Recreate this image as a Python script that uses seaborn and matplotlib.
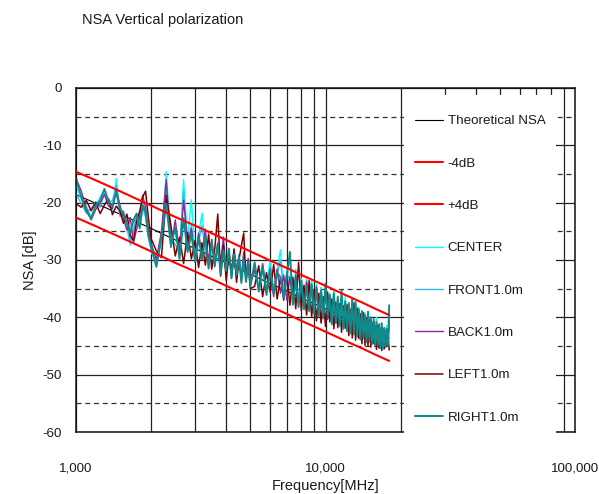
import matplotlib
matplotlib.use("Agg")
import matplotlib.pyplot as plt
import seaborn as sns
from matplotlib.ticker import FixedLocator, NullFormatter, MultipleLocator
from matplotlib.patches import Rectangle

# ---------------- data ----------------
FREQ = [1000, 1050, 1100, 1150, 1200, 1250, 1300, 1350, 1400, 1450,
        1500, 1550, 1600, 1650, 1700, 1750, 1800, 1850, 1900, 1950, 2000,
        2100, 2200, 2300, 2400, 2500, 2600, 2700, 2800, 2900, 3000,
        3100, 3200, 3300, 3400, 3500, 3600, 3700, 3800, 3900, 4000,
        4100, 4200, 4300, 4400, 4500, 4600, 4700, 4800, 4900, 5000,
        5200, 5400, 5600, 5800, 6000, 6200, 6400, 6600, 6800, 7000,
        7200, 7400, 7600, 7800, 8000, 8200, 8400, 8600, 8800, 9000,
        9200, 9400, 9600, 9800, 10000, 10200, 10400, 10600, 10800, 11000,
        11200, 11400, 11600, 11800, 12000, 12200, 12400, 12600, 12800, 13000,
        13200, 13400, 13600, 13800, 14000, 14200, 14400, 14600, 14800, 15000,
        15200, 15400, 15600, 15800, 16000, 16200, 16400, 16600, 16800, 17000,
        17200, 17400, 17600, 17800, 18000]

THEO_F = [1000, 1200, 1500, 2000, 2500, 3000, 4000, 5000, 6000, 7000,
          8000, 10000, 12000, 14000, 16000, 18000]
THEO = [-18.6, -20.1, -22.0, -24.5, -26.5, -28.0, -30.5, -32.5, -34.1, -35.4,
        -36.6, -38.5, -40.1, -41.4, -42.6, -43.6]
LOWER = [-22.6, -24.1, -26.0, -28.5, -30.5, -32.0, -34.5, -36.5, -38.1, -39.4,
         -40.6, -42.5, -44.1, -45.4, -46.6, -47.6]
UPPER = [-14.6, -16.1, -18.0, -20.5, -22.5, -24.0, -26.5, -28.5, -30.1, -31.4,
         -32.6, -34.5, -36.1, -37.4, -38.6, -39.6]

CENTER = [-17.0, -19.4, -20.6, -22.4, -20.6, -19.0, -17.8, -19.6, -21.4, -15.8,
          -21.6, -22.0, -24.6, -27.4, -24.0, -22.6, -24.0, -21.0, -22.6, -25.6, -28.6,
          -30.4, -27.0, -14.6, -26.4, -25.0, -29.4, -16.0, -26.6, -19.5, -29.0,
          -25.6, -21.8, -27.8, -30.6, -26.4, -31.0, -28.6, -31.8, -27.2, -31.6,
          -29.2, -32.6, -28.4, -33.2, -30.2, -32.2, -29.0, -33.6, -31.0, -34.2,
          -31.2, -35.2, -32.0, -35.0, -30.0, -35.4, -31.8, -28.2, -35.8, -32.0,
          -34.0, -36.8, -31.6, -37.2, -33.2, -37.6, -34.2, -38.4, -33.4, -38.8,
          -34.2, -39.0, -35.4, -39.6, -35.0, -39.8, -36.6, -40.6, -35.2, -40.2,
          -36.8, -40.8, -37.8, -41.4, -36.4, -41.8, -38.4, -42.2, -37.6, -42.8,
          -38.2, -42.6, -38.2, -43.4, -39.6, -43.2, -39.2, -43.6, -40.4, -43.9,
          -40.4, -44.2, -41.2, -44.6, -40.0, -44.4, -41.8, -44.8, -41.6, -45.0,
          -42.2, -44.4, -41.4, -44.6, -39.4]

FRONT = [-18.4, -20.2, -21.8, -21.0, -19.8, -20.8, -18.4, -20.0, -19.6, -17.0,
         -22.4, -21.4, -23.8, -26.8, -25.2, -22.0, -23.2, -20.0, -21.4, -26.0, -28.0,
         -29.6, -26.4, -17.0, -25.8, -27.4, -28.2, -18.0, -27.0, -24.0, -29.6,
         -26.8, -24.0, -28.4, -29.8, -27.6, -30.4, -27.8, -31.4, -28.6, -32.2,
         -28.6, -31.6, -29.6, -33.0, -29.0, -32.8, -30.2, -32.8, -30.0, -33.6,
         -32.0, -34.6, -31.4, -35.2, -31.0, -36.0, -32.6, -30.0, -35.2, -33.2,
         -32.8, -37.2, -33.0, -36.8, -34.0, -37.8, -33.4, -38.0, -34.6, -38.2,
         -35.6, -39.4, -34.8, -39.0, -36.0, -40.0, -36.4, -40.4, -37.0, -40.8,
         -37.4, -41.0, -36.6, -41.6, -38.0, -41.6, -37.6, -42.4, -38.2, -42.6,
         -38.6, -42.8, -39.0, -43.0, -39.8, -43.4, -40.0, -43.6, -40.6, -44.0,
         -41.0, -44.0, -41.4, -44.4, -41.4, -44.8, -42.0, -44.6, -42.2, -44.8,
         -42.6, -45.0, -42.2, -44.4, -41.0]

BACK = [-15.7, -18.0, -21.0, -23.0, -21.2, -20.0, -18.6, -20.6, -21.0, -17.8,
        -20.4, -22.8, -24.8, -22.6, -27.0, -24.6, -22.4, -18.7, -20.9, -24.8, -27.0,
        -30.0, -25.0, -16.0, -27.8, -23.0, -28.9, -19.6, -27.3, -24.5, -30.4,
        -25.3, -29.0, -24.6, -30.5, -26.4, -31.2, -27.0, -30.2, -26.0, -32.8,
        -28.4, -33.0, -28.0, -31.8, -29.4, -33.6, -28.6, -32.4, -29.7, -34.0,
        -31.8, -34.8, -30.6, -35.6, -32.4, -36.4, -31.6, -35.8, -32.6, -37.0,
        -33.0, -36.6, -32.6, -37.5, -34.4, -38.0, -33.8, -38.6, -35.0, -38.8,
        -34.6, -39.2, -36.0, -39.8, -35.4, -40.4, -36.2, -40.2, -36.6, -41.0,
        -37.2, -41.2, -37.0, -41.6, -38.2, -42.0, -37.8, -42.6, -38.6, -42.4,
        -38.8, -43.0, -39.4, -43.2, -39.0, -43.6, -40.2, -43.8, -40.0, -44.2,
        -40.8, -44.4, -40.6, -44.2, -41.6, -44.6, -41.2, -44.9, -42.0, -45.0,
        -41.8, -44.6, -42.4, -45.0, -40.6]

LEFT = [-20.2, -20.8, -19.6, -21.4, -20.0, -21.9, -20.4, -19.3, -22.1, -20.6,
        -21.5, -23.6, -22.0, -25.8, -26.6, -23.2, -21.5, -19.0, -18.0, -22.6, -26.3,
        -28.4, -29.6, -18.7, -24.0, -29.3, -26.0, -30.6, -25.2, -29.8, -26.6,
        -31.3, -27.0, -30.9, -25.5, -31.6, -28.0, -22.0, -32.8, -27.4, -33.6,
        -29.1, -32.0, -28.2, -33.9, -30.0, -27.5, -25.3, -33.8, -30.6, -35.0,
        -34.6, -31.0, -36.4, -32.2, -35.6, -30.8, -36.8, -33.1, -37.0, -32.4,
        -37.9, -33.0, -38.5, -30.4, -38.8, -34.4, -39.6, -33.6, -39.9, -35.2,
        -40.6, -35.8, -41.0, -36.4, -41.6, -35.6, -40.8, -36.8, -42.0, -37.4,
        -41.8, -37.6, -42.6, -38.0, -41.9, -37.8, -43.2, -38.6, -43.6, -37.5,
        -44.0, -38.4, -43.7, -39.4, -44.6, -39.2, -44.9, -40.1, -45.0, -40.4,
        -45.2, -40.9, -44.6, -41.5, -45.6, -41.4, -45.4, -42.0, -45.8, -42.2,
        -45.5, -42.4, -44.9, -42.8, -45.7]

RIGHT = [-15.8, -19.0, -21.5, -22.8, -20.5, -19.6, -17.6, -19.8, -20.6, -18.2,
         -21.0, -21.9, -23.6, -25.2, -23.0, -21.9, -24.5, -20.5, -21.8, -25.8, -27.6,
         -31.2, -26.0, -20.2, -27.5, -24.3, -29.8, -22.7, -28.6, -25.4, -30.2,
         -26.0, -29.9, -25.8, -31.5, -27.0, -30.8, -27.2, -32.4, -28.3, -31.9,
         -28.0, -33.2, -29.0, -32.6, -29.5, -34.0, -30.0, -33.8, -30.4, -34.6,
         -30.4, -35.5, -31.0, -36.1, -31.6, -35.9, -32.2, -33.0, -36.6, -32.8,
         -28.6, -37.8, -33.4, -38.2, -33.6, -38.6, -34.5, -38.9, -34.2, -39.4,
         -35.0, -39.8, -35.3, -40.2, -34.1, -39.6, -36.0, -41.2, -35.8, -40.9,
         -36.4, -41.5, -35.3, -42.0, -37.2, -42.4, -37.5, -42.8, -36.7, -43.0,
         -37.3, -43.4, -38.6, -43.9, -38.9, -43.5, -39.6, -44.3, -39.0, -44.1,
         -40.0, -44.6, -40.3, -45.0, -40.8, -44.8, -41.2, -45.3, -41.0, -45.5,
         -41.9, -45.2, -42.0, -44.8, -37.9]

XTICKS = [1000, 10000, 100000]
XTICK_LABELS = ["1,000", "10,000", "100,000"]
XMINOR = [2000, 3000, 4000, 5000, 6000, 7000, 8000, 9000,
          20000, 30000, 40000, 50000, 60000, 70000, 80000, 90000]

# ---------------- style ----------------
sns.set_theme(style="white")
plt.rcParams['font.family'] = ['Liberation Sans', 'DejaVu Sans']
plt.rcParams['axes.unicode_minus'] = False
FS = 10.5
FS_SMALL = 9.6
TXT = "#1a1a1a"

fig = plt.figure(figsize=(5.99, 4.94), dpi=100)
ax = fig.add_axes([76 / 599, 1 - 432 / 494, (575 - 76) / 599, (432 - 88) / 494])

common = dict(ax=ax, estimator=None, sort=False)
sns.lineplot(x=THEO_F, y=THEO, color="black", lw=0.8, label="Theoretical NSA", zorder=1.9, **common)
sns.lineplot(x=THEO_F, y=LOWER, color="#FF0000", lw=1.5, label="-4dB", zorder=2.6, **common)
sns.lineplot(x=THEO_F, y=UPPER, color="#FF0000", lw=1.5, label="+4dB", zorder=2.6, **common)

measured = [("CENTER", CENTER, "#00FFFF", 1.0),
            ("FRONT1.0m", FRONT, "#33BBEE", 1.0),
            ("BACK1.0m", BACK, "#8B2A9E", 1.0),
            ("LEFT1.0m", LEFT, "#800000", 1.1),
            ("RIGHT1.0m", RIGHT, "#138A8A", 1.4)]
for name, vals, col, lw in measured:
    sns.lineplot(x=FREQ, y=vals, color=col, lw=lw, label=name, zorder=2.1, **common)

ax.set_xscale("log")
ax.set_xlim(1000, 100000)
ax.set_ylim(-60, 0)
ax.xaxis.set_major_locator(FixedLocator(XTICKS))
ax.xaxis.set_minor_locator(FixedLocator(XMINOR))
ax.xaxis.set_minor_formatter(NullFormatter())
ax.set_xticklabels(XTICK_LABELS)
ax.yaxis.set_major_locator(MultipleLocator(10))
ax.yaxis.set_minor_locator(MultipleLocator(5))

ax.set_axisbelow(True)
ax.grid(which="major", axis="both", color="#222222", lw=0.9, ls="-")
ax.grid(which="minor", axis="x", color="#222222", lw=0.9, ls="-")
ax.grid(which="minor", axis="y", color="#333333", lw=0.9, ls=(0, (4, 3)))

ax.tick_params(which="both", length=0)
ax.tick_params(axis="x", pad=22, labelsize=FS_SMALL, labelcolor=TXT)
ax.tick_params(axis="y", pad=10, labelsize=FS_SMALL, labelcolor=TXT)
for sp in ax.spines.values():
    sp.set_visible(True)
    sp.set_color("#111111")
    sp.set_linewidth(1.1)

ax.set_xlabel("Frequency[MHz]", fontsize=FS, color=TXT, labelpad=3)
ax.set_ylabel("NSA [dB]", fontsize=FS, color=TXT, labelpad=4)

# white legend area
x0 = (404 - 76) / 499
x1 = (556 - 76) / 499
ytop = (432 - 95) / 344
ax.add_patch(Rectangle((x0, -0.006), x1 - x0, ytop + 0.006, transform=ax.transAxes,
                       facecolor="white", edgecolor="none", zorder=3, clip_on=False))
leg = ax.legend(loc="upper left", bbox_to_anchor=((415 - 76) / 499, (432 - 115) / 344),
                frameon=False, borderpad=0, borderaxespad=0, handlelength=2.1,
                handletextpad=0.35, labelspacing=2.25, fontsize=FS_SMALL)
for t in leg.get_texts():
    t.set_color(TXT)
leg.set_zorder(5)

fig.text(82 / 599, 1 - 20 / 494, "NSA Vertical polarization", ha="left", va="center",
         fontsize=FS, color=TXT)

fig.savefig("out.png", dpi=100)
